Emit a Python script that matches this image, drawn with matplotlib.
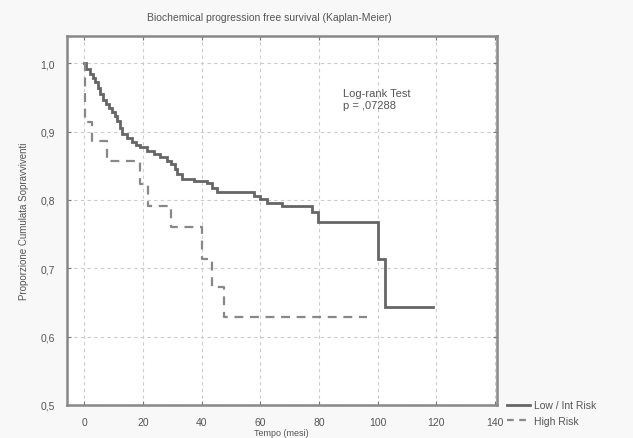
import matplotlib
matplotlib.use("Agg")
import matplotlib.pyplot as plt
from matplotlib.lines import Line2D

# Data
low_t = [0, 0.8, 2, 3, 3.8, 4.8, 5.5, 6.5, 7.5, 8.5, 9.5, 10.5, 11.2, 12.3, 13,
         14.6, 16.3, 17.5, 19.1, 21.4, 23.7, 25.9, 28.2, 29.6, 30.8, 31.8, 33.5,
         37.3, 42, 43.5, 45.3, 58, 60, 62.4, 67.5, 77.5, 79.5, 100, 102.4, 119]
low_s = [1.0, 0.991, 0.984, 0.978, 0.972, 0.963, 0.955, 0.946, 0.940, 0.935,
         0.928, 0.922, 0.916, 0.905, 0.896, 0.891, 0.884, 0.881, 0.877, 0.872,
         0.867, 0.862, 0.857, 0.852, 0.845, 0.838, 0.831, 0.828, 0.825, 0.818,
         0.811, 0.806, 0.801, 0.796, 0.791, 0.782, 0.767, 0.713, 0.643, 0.643]

high_t = [0, 0.3, 2.6, 7.7, 19.1, 21.8, 29.5, 40.2, 43.6, 47.8, 96.5]
high_s = [1.0, 0.914, 0.886, 0.857, 0.823, 0.791, 0.760, 0.714, 0.672, 0.628, 0.628]

x_ticks = [0, 20, 40, 60, 80, 100, 120, 140]
y_ticks = [0.5, 0.6, 0.7, 0.8, 0.9, 1.0]
y_ticklabels = ["0,5", "0,6", "0,7", "0,8", "0,9", "1,0"]
series_labels = ["Low / Int Risk", "High Risk"]

plt.rcParams['font.family'] = ['Liberation Sans', 'DejaVu Sans']

fig = plt.figure(figsize=(6.33, 4.39), dpi=100, facecolor='#f8f8f8')
ax = fig.add_axes([0.1065, 0.0752, 0.678, 0.8394])
ax.set_facecolor('white')

ax.step(low_t, low_s, where='post', color='#666666', lw=2.0, solid_joinstyle='miter')
ax.step(high_t, high_s, where='post', color='#888888', lw=1.6, linestyle=(0, (4, 3)))

ax.set_xlim(-5.7, 140.5)
ax.set_ylim(0.5, 1.039)
ax.set_xticks(x_ticks)
ax.set_yticks(y_ticks)
ax.set_yticklabels(y_ticklabels)
ax.grid(True, linestyle=(0, (3, 3)), color='#cccccc', lw=0.8)
ax.tick_params(direction='in', length=3, color='#777777', labelsize=7.5,
               labelcolor='#555555', top=True, right=True, pad=9)
for sp in ax.spines.values():
    sp.set_color('#888888')
    sp.set_linewidth(1.8)

ax.set_title("Biochemical progression free survival (Kaplan-Meier)",
             fontsize=7.5, color='#555555', x=0.47, pad=12)
ax.set_ylabel("Proporzione Cumulata Sopravviventi", fontsize=7, color='#555555',
              labelpad=8)

ax.text(0.642, 0.80, "Log-rank Test\np = ,07288", transform=ax.transAxes,
        fontsize=8, color='#555555', va='bottom', linespacing=1.3)

fig.text(0.445, 0.002, "Tempo (mesi)", fontsize=6.5, color='#555555',
         ha='center', va='bottom')

handles = [Line2D([], [], color='#666666', lw=2.0),
           Line2D([], [], color='#888888', lw=1.6, linestyle=(0, (3, 2.5)))]
fig.legend(handles, series_labels, loc='upper left',
           bbox_to_anchor=(0.795, 0.095), frameon=False, fontsize=7.5,
           handlelength=2.2, handletextpad=0.4, labelspacing=0.5,
           borderaxespad=0, labelcolor='#555555')

fig.savefig("out.png", dpi=100, facecolor=fig.get_facecolor())
